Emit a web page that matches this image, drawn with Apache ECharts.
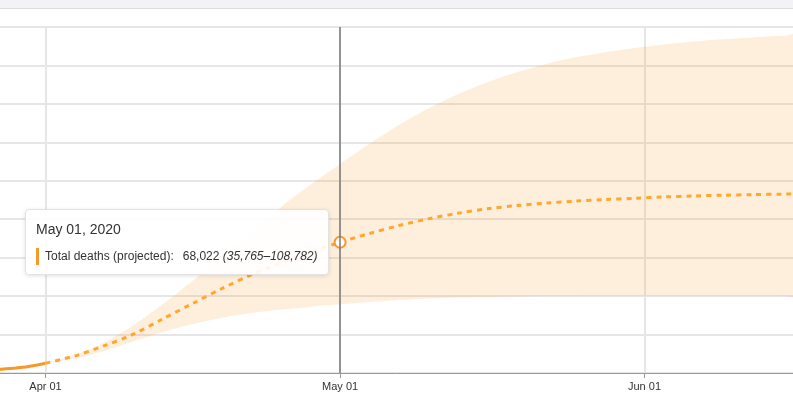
<!DOCTYPE html>
<html>
<head>
<meta charset="utf-8">
<script src="https://cdn.jsdelivr.net/npm/echarts@6/dist/echarts.min.js"></script>
<style>
  html, body { margin: 0; padding: 0; background: #fff; }
  #chart { width: 793px; height: 398px; }
</style>
</head>
<body>
<div id="chart"></div>
<script>
// ---- data ----
const actualDates = ['2020-03-26','2020-03-27','2020-03-28','2020-03-29','2020-03-30','2020-03-31','2020-04-01'];
const actualDeaths = [1300, 1700, 2200, 2600, 3100, 4000, 5100];

const projDates = ['2020-04-01','2020-04-04','2020-04-07','2020-04-10','2020-04-13','2020-04-16','2020-04-19',
  '2020-04-22','2020-04-25','2020-04-28','2020-05-01','2020-05-04','2020-05-07','2020-05-10','2020-05-13',
  '2020-05-16','2020-05-19','2020-05-22','2020-05-25','2020-05-28','2020-05-31','2020-06-03','2020-06-06',
  '2020-06-09','2020-06-12','2020-06-15','2020-06-18'];
const projected = [5100, 8900, 14200, 20300, 28300, 36200, 44000, 51200, 57300, 63000, 68022, 72600, 76700,
  80200, 83100, 85400, 87100, 88400, 89400, 90200, 90900, 91600, 92100, 92500, 92800, 93050, 93200];
const lower = [5100, 7500, 11500, 16500, 21500, 25500, 28800, 31200, 33000, 34500, 35765, 37000, 38000,
  38800, 39300, 39600, 39800, 40000, 40100, 40150, 40200, 40200, 40200, 40200, 40200, 40200, 40200];
const upper = [5100, 9300, 16000, 25000, 36000, 48000, 60500, 73500, 86400, 98000, 108782, 119300, 129000,
  137600, 145000, 151300, 156500, 160800, 164200, 166900, 169100, 170900, 172400, 173600, 174600, 175400, 176000];

const tickDates = ['2020-04-01', '2020-05-01', '2020-06-01'];
const tooltipDate = '2020-05-01';
const seriesLabel = 'Total deaths (projected)';

// ---- helpers ----
const MONTHS = ['Jan','Feb','Mar','Apr','May','Jun','Jul','Aug','Sep','Oct','Nov','Dec'];
const DAY = 86400000;
const ORIGIN = Date.UTC(2020, 3, 1);
function dayOf(s) { const p = s.split('-').map(Number); return Math.round((Date.UTC(p[0], p[1] - 1, p[2]) - ORIGIN) / DAY); }
function dateOf(day) { return new Date(ORIGIN + Math.round(day) * DAY); }
function pad(n) { return (n < 10 ? '0' : '') + n; }
function fmtNum(v) { return v.toLocaleString('en-US'); }
const ORANGE = '#f7982a';

const xMin = -4.633;
const xMax = 76.12;

const projDays = projDates.map(dayOf);
const projData = projDates.map((d, i) => [projDays[i], projected[i]]);
const actualData = actualDates.map((d, i) => [dayOf(d), actualDeaths[i]]);
const tipIndex = projDates.indexOf(tooltipDate);
const tickDays = tickDates.map(dayOf);

const chart = echarts.init(document.getElementById('chart'), null, { renderer: 'canvas' });

chart.setOption({
  animation: false,
  textStyle: { fontFamily: 'Liberation Sans, Arial, sans-serif' },
  graphic: [
    { type: 'rect', shape: { x: 0, y: 0, width: 793, height: 8 }, style: { fill: '#f3f3f5' }, z: 100 },
    { type: 'rect', shape: { x: 0, y: 8, width: 793, height: 1 }, style: { fill: '#dcdcde' }, z: 100 }
  ],
  grid: { left: 0, right: 0, top: 27, bottom: 25, containLabel: false },
  xAxis: {
    type: 'value',
    min: xMin,
    max: xMax,
    axisLine: { show: true, lineStyle: { color: '#999', width: 1 } },
    axisTick: { show: true, length: 5, lineStyle: { color: '#999' }, customValues: tickDays },
    axisLabel: {
      customValues: tickDays,
      color: '#333', fontSize: 11, margin: 8,
      formatter: function (v) { const d = dateOf(v); return MONTHS[d.getUTCMonth()] + ' ' + pad(d.getUTCDate()); }
    },
    splitLine: { show: true, lineStyle: { color: '#e6e6e6', width: 2 } }
  },
  yAxis: {
    type: 'value',
    min: 0, max: 180000, interval: 20000,
    axisLine: { show: false }, axisTick: { show: false }, axisLabel: { show: false },
    splitLine: { show: true, lineStyle: { color: '#e6e6e6', width: 2 } }
  },
  tooltip: {
    trigger: 'axis',
    triggerOn: 'none',
    alwaysShowContent: true,
    transitionDuration: 0,
    backgroundColor: 'rgba(255,255,255,0.9)',
    borderColor: '#e2e2e2',
    borderWidth: 1,
    padding: [9, 10, 9, 10],
    extraCssText: 'box-shadow: 0 1px 4px rgba(0,0,0,0.12); border-radius: 4px;',
    axisPointer: { type: 'line', label: { show: false }, lineStyle: { color: '#777', width: 1.5, type: 'solid' } },
    position: function (point, params, dom, rect, size) {
      return [point[0] - size.contentSize[0] - 11, point[1] - size.contentSize[1] / 2];
    },
    formatter: function (params) {
      const p = params.find(q => q.seriesName === seriesLabel) || params[0];
      const i = p.dataIndex;
      const d = dateOf(projDays[i]);
      const title = MONTHS[d.getUTCMonth()] + ' ' + pad(d.getUTCDate()) + ', ' + d.getUTCFullYear();
      return '<div style="font-family:Liberation Sans, Arial, sans-serif;color:#333;">' +
        '<div style="font-size:14px;line-height:18px;margin:1px 0 9px 0;">' + title + '</div>' +
        '<div style="display:flex;align-items:center;font-size:12px;line-height:18px;">' +
        '<span style="display:inline-block;width:3px;height:17px;background:' + ORANGE + ';margin-right:6px;"></span>' +
        '<span style="margin-right:9px;">' + seriesLabel + ':</span>' +
        '<span>' + fmtNum(projected[i]) + '&nbsp;<i>(' + fmtNum(lower[i]) + '–' + fmtNum(upper[i]) + ')</i></span>' +
        '</div></div>';
    }
  },
  series: [
    {
      name: 'band', type: 'custom', data: [0], silent: true, z: 1, clip: true,
      tooltip: { show: false },
      renderItem: function (params, api) {
        const pts = [];
        for (let i = 0; i < projDays.length; i++) pts.push(api.coord([projDays[i], upper[i]]));
        for (let i = projDays.length - 1; i >= 0; i--) pts.push(api.coord([projDays[i], lower[i]]));
        return {
          type: 'polygon',
          shape: { points: pts, smooth: 0.3 },
          style: { fill: 'rgba(247,160,60,0.18)' }
        };
      }
    },
    {
      name: 'Total deaths', type: 'line', data: actualData, smooth: 0.3,
      symbol: 'none', showSymbol: false,
      lineStyle: { color: ORANGE, width: 3 },
      emphasis: { scale: false, lineStyle: { width: 3 } }, z: 3
    },
    {
      name: seriesLabel, type: 'line', data: projData, smooth: 0.3,
      symbol: 'circle', symbolSize: 11, showSymbol: false,
      itemStyle: { color: '#fff', borderColor: ORANGE, borderWidth: 2 },
      lineStyle: { color: ORANGE, width: 3, type: [5, 5] },
      emphasis: { scale: false, lineStyle: { width: 3 }, itemStyle: { color: '#fff', borderColor: ORANGE, borderWidth: 2 } },
      z: 4
    }
  ]
});

chart.dispatchAction({ type: 'showTip', seriesIndex: 2, dataIndex: tipIndex });
</script>
</body>
</html>
